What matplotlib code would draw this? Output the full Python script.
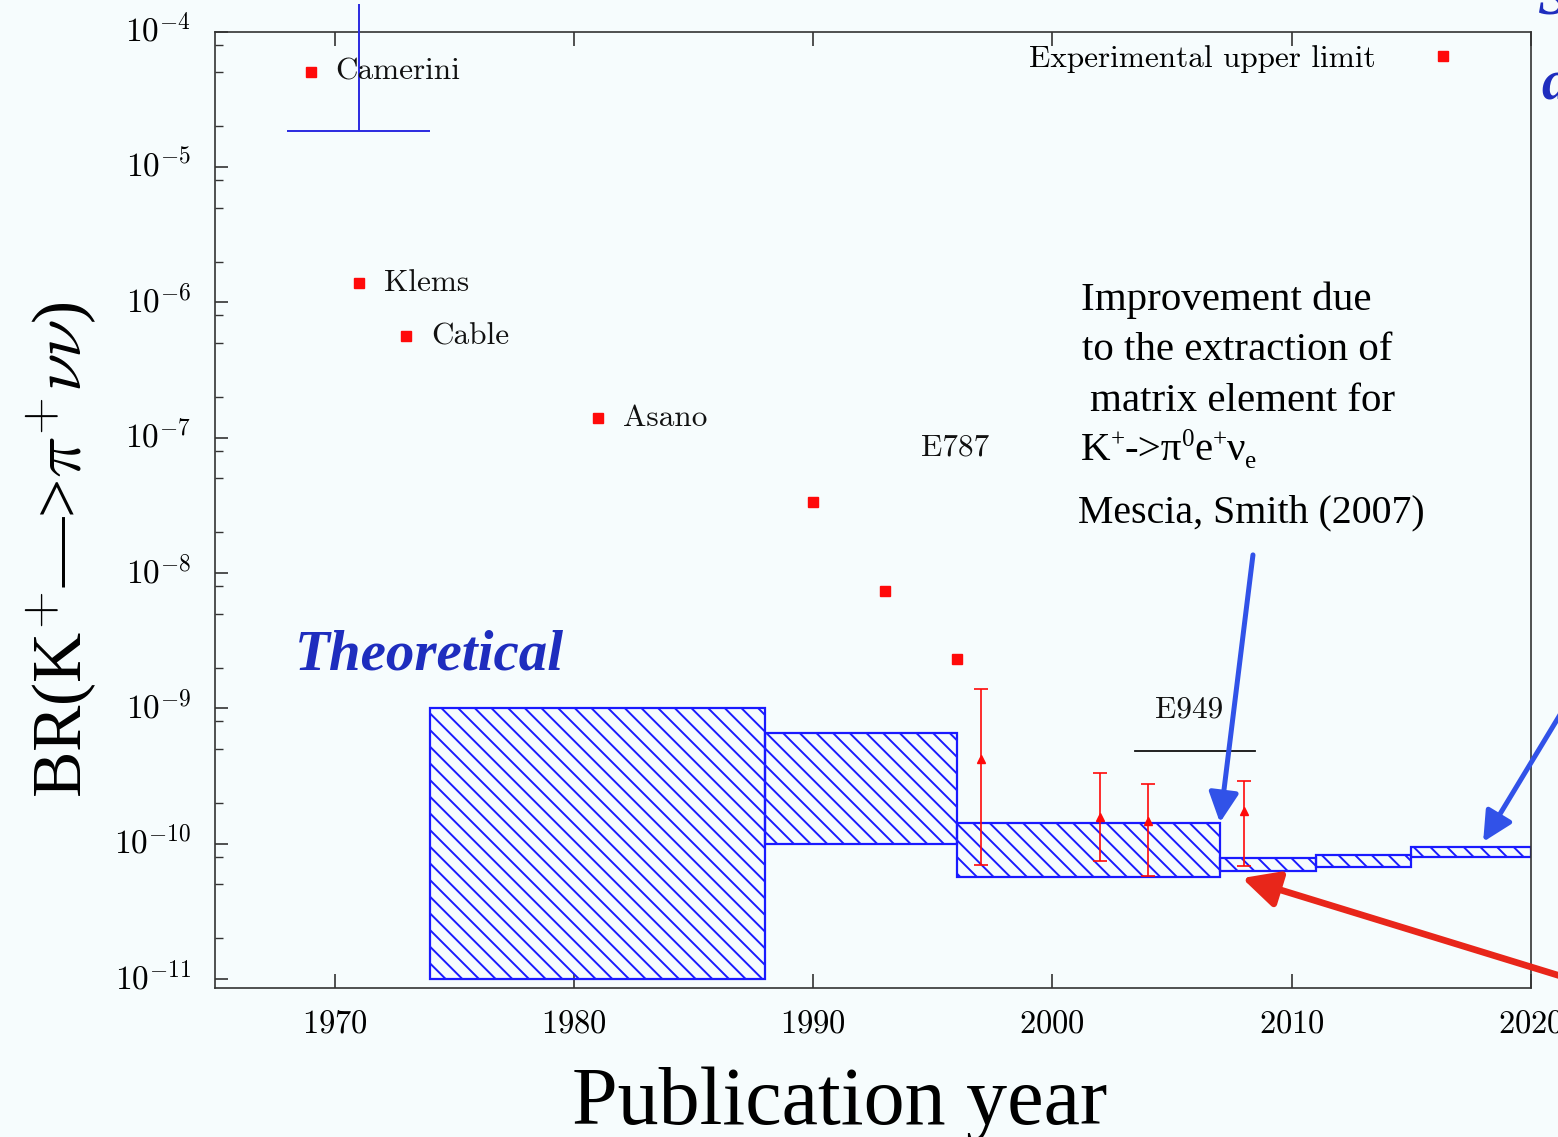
import numpy as np
import matplotlib
matplotlib.use('Agg')
import matplotlib.pyplot as plt
from matplotlib.ticker import LogLocator, FuncFormatter, NullFormatter
from matplotlib.lines import Line2D

# ---------------- data ----------------
exp_labels = ['Camerini', 'Klems', 'Cable', 'Asano', '', '', '']
exp_years = [1969, 1971, 1973, 1981, 1990, 1993, 1996]
exp_limits = [5.06e-5, 1.39e-6, 5.63e-7, 1.40e-7, 3.34e-8, 7.35e-9, 2.31e-9]

meas_years = [1997, 2002, 2004, 2008]
meas_br = [4.2e-10, 1.57e-10, 1.47e-10, 1.73e-10]
meas_err_hi = [9.7e-10, 1.75e-10, 1.30e-10, 1.15e-10]
meas_err_lo = [3.5e-10, 0.82e-10, 0.89e-10, 1.05e-10]

theo_start = [1974, 1988, 1996, 2007, 2011, 2015]
theo_end = [1988, 1996, 2007, 2011, 2015, 2020]
theo_low = [1.0e-11, 1.0e-10, 5.7e-11, 6.3e-11, 6.7e-11, 7.9e-11]
theo_high = [1.0e-9, 6.6e-10, 1.43e-10, 7.8e-11, 8.3e-11, 9.4e-11]

early_theory_year = 1971
early_theory_halfwidth = 3
early_theory_value = 1.85e-5
early_theory_top = 1.6e-4

e949_span = [2003.45, 2008.45]
e949_level = 4.83e-10

xticks = [1970, 1980, 1990, 2000, 2010, 2020]

# ---------------- style ----------------
W, H = 1558, 1137
plt.rcParams['mathtext.fontset'] = 'cm'
plt.rcParams['axes.formatter.use_mathtext'] = True
plt.rcParams['hatch.linewidth'] = 1.4

BG = '#f6fcfd'
RED = '#ff0a0a'
BLUE = '#1a1aff'
ARROW_BLUE = '#3152e8'
ARROW_RED = '#e8261a'
TXT_BLUE = '#1e2dbe'
INK = '#111111'

fig = plt.figure(figsize=(W / 100, H / 100), dpi=100, facecolor=BG)
ax = fig.add_axes([215 / W, 1 - 988 / H, (1531 - 215) / W, (988 - 31.7) / H])
ax.set_facecolor(BG)
ax.set_yscale('log')
ax.set_xlim(1965, 2020)
ax.set_ylim(10 ** -11.067, 1e-4)


def px(x, y):
    return (x / W, 1 - y / H)


# theory boxes
for s, e, lo, hi in zip(theo_start, theo_end, theo_low, theo_high):
    ax.bar(s, hi - lo, width=e - s, bottom=lo, align='edge',
           facecolor='none', edgecolor=BLUE, hatch='\\\\', linewidth=1.6, zorder=2)

# early theory bracket (extends above the frame)
ax.errorbar([early_theory_year], [early_theory_value],
            xerr=[[early_theory_halfwidth], [early_theory_halfwidth]],
            yerr=[[0], [early_theory_top - early_theory_value]],
            fmt='none', ecolor='#2a2ae0', elinewidth=1.4, capsize=0, clip_on=False, zorder=3)

# experimental upper limits
ax.plot(exp_years, exp_limits, ls='none', marker='s', ms=7.5, color=RED, mec=RED, zorder=4)
for x, y, lab in zip(exp_years, exp_limits, exp_labels):
    if lab:
        ax.annotate(lab, (x, y), xytext=(18, 0), textcoords='offset points',
                    ha='left', va='center', family='cmr10', fontsize=22.5, color=INK)

# measurements
ax.errorbar(meas_years, meas_br, yerr=[meas_err_lo, meas_err_hi], fmt='^',
            color=RED, ms=6, elinewidth=1.2, capsize=5, capthick=1.2, zorder=5)

# E949 line
ax.plot(e949_span, [e949_level, e949_level], color=INK, lw=1.3, zorder=3)

ax.text(*px(921, 448), 'E787', transform=fig.transFigure, family='cmr10', fontsize=22.5,
        ha='left', va='center', color=INK)
ax.text(*px(1155, 710), 'E949', transform=fig.transFigure, family='cmr10', fontsize=22.5,
        ha='left', va='center', color=INK)

# legend
leg = ax.legend(handles=[Line2D([], [], ls='none', marker='s', ms=7.5, color=RED)],
                labels=['Experimental upper limit'], markerfirst=False, frameon=False,
                loc='upper right', bbox_to_anchor=(0.9475, 0.9895), borderaxespad=0,
                borderpad=0.1, handlelength=1.0, handletextpad=1.65,
                prop=dict(family='cmr10', size=22.5))

# axes styling
for sp in ax.spines.values():
    sp.set_color('#333333')
    sp.set_linewidth(1.2)
ax.xaxis.set_major_locator(plt.FixedLocator(xticks))
ax.xaxis.set_major_formatter(FuncFormatter(lambda v, p: r'$%d$' % int(round(v))))
ax.yaxis.set_major_locator(LogLocator(base=10, numticks=20))
ax.yaxis.set_minor_locator(LogLocator(base=10, subs=[2, 5, 8], numticks=20))
ax.yaxis.set_minor_formatter(NullFormatter())
ax.yaxis.set_major_formatter(FuncFormatter(lambda v, p: r'$10^{%d}$' % int(round(np.log10(v)))))
ax.tick_params(axis='x', which='major', direction='in', top=True, bottom=True,
               length=10, width=1.2, labelsize=23.5, pad=13, color='#333333')
ax.tick_params(axis='y', which='major', direction='in', left=True, right=False,
               length=9, width=1.2, labelsize=24, pad=17, color='#333333')
ax.tick_params(axis='y', which='minor', direction='in', left=True, right=False,
               length=6, width=1.0, color='#333333')
for t in ax.get_yticklabels():
    t.set_verticalalignment('center')

# axis titles
fig.text(*px(840, 1104), 'Publication year', family='Liberation Serif', fontsize=59,
         ha='center', va='center', color='black')
fig.text(*px(62, 550), r'BR(K$^{+}$—>$\pi^{+}\nu\nu$)', family='Liberation Serif',
         fontsize=50, rotation=90, ha='center', va='center', color='black')

# annotations
fig.text(*px(295, 670), 'Theoretical', family='Liberation Serif', fontsize=41,
         fontweight='bold', fontstyle='italic', color=TXT_BLUE, ha='left', va='baseline')

SERIF = 'Liberation Serif'
note_kw = dict(family=SERIF, fontsize=29.5, color='black', ha='left', va='baseline')
fig.text(*px(1081, 310), 'Improvement due', **note_kw)
fig.text(*px(1082, 360), 'to the extraction of', **note_kw)
fig.text(*px(1090, 411), 'matrix element for', **note_kw)
fig.text(*px(1078, 522), 'Mescia, Smith (2007)', **dict(note_kw, fontsize=28.7))

# K+ -> pi0 e+ nu_e, built from chained pieces (small super/subscripts)
BASE, SMALL = 29.5, 18
k_txt = fig.text(*px(1081, 460), 'K', **note_kw)
pieces = [('+', 'sup'), ('->π', 'base'), ('0', 'sup'), ('e', 'base'),
          ('+', 'sup'), ('ν', 'base'), ('e', 'sub')]
prev = k_txt
for s, kind in pieces:
    if kind == 'base':
        yfrac, size = 0.0, BASE
    elif kind == 'sup':
        yfrac, size = 0.48, SMALL
    else:
        yfrac, size = -0.12, SMALL
    prev = ax.annotate(s, xy=(1.0, yfrac), xycoords=(prev, k_txt), va='bottom', ha='left',
                       family=SERIF, fontsize=size, color='black', annotation_clip=False)

# partial letters at the right edge
fig.text(*px(1541, 100), 'a', family='Liberation Serif', fontsize=40, fontweight='bold',
         fontstyle='italic', color=TXT_BLUE, ha='left', va='baseline')
fig.text(*px(1538, 14), 'S', family='Liberation Serif', fontsize=40, fontweight='bold',
         fontstyle='italic', color=TXT_BLUE, ha='left', va='baseline')

# arrows
ax.annotate('', xy=(2007.0, 1.43e-10), xytext=(2008.38, 1.36e-8),
            arrowprops=dict(arrowstyle='-|>', color=ARROW_BLUE, lw=3.6,
                            mutation_scale=45, shrinkA=0, shrinkB=0), zorder=6)
ax.annotate('', xy=(2018.0, 1.03e-10), xytext=(1575, H - 690), textcoords='figure pixels',
            arrowprops=dict(arrowstyle='-|>', color=ARROW_BLUE, lw=3.6,
                            mutation_scale=45, shrinkA=0, shrinkB=0),
            annotation_clip=False, zorder=6)
ax.annotate('', xy=(2007.92, 5.56e-11), xytext=(1580, H - 982), textcoords='figure pixels',
            arrowprops=dict(arrowstyle='-|>', color=ARROW_RED, lw=4.8,
                            mutation_scale=55, shrinkA=0, shrinkB=0),
            annotation_clip=False, zorder=6)

fig.savefig('out.png', dpi=100, facecolor=BG)
